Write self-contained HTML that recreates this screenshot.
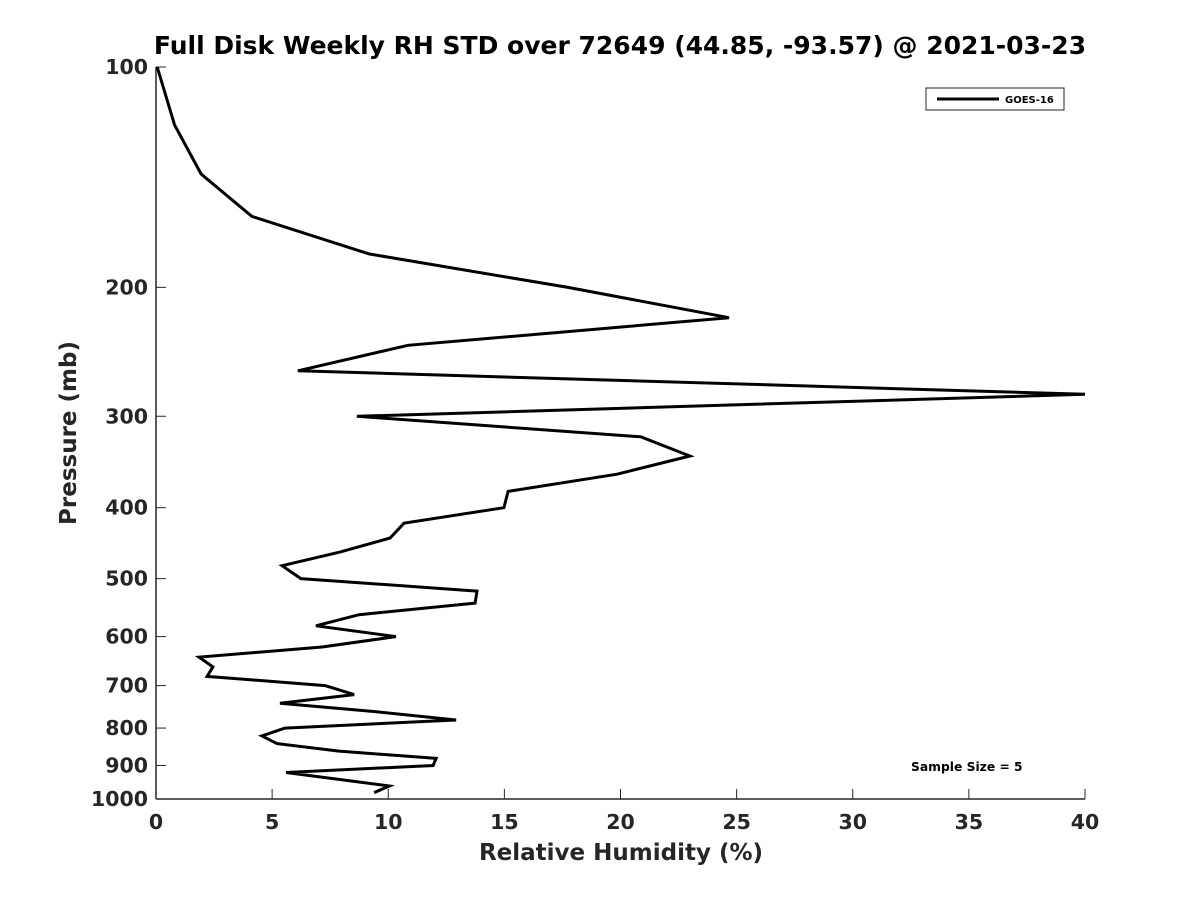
<!DOCTYPE html>
<html><head><meta charset="utf-8"><style>
body{margin:0;background:#fff;}
svg text{font-family:"DejaVu Sans","Liberation Sans",sans-serif;font-weight:bold;fill:#262626;}
</style></head><body>
<svg id="chart" width="1200" height="900" viewBox="0 0 1200 900" xmlns="http://www.w3.org/2000/svg">
<rect width="1200" height="900" fill="#fff"/>
<text x="620" y="54" font-size="25" text-anchor="middle" style="fill:#000">Full Disk Weekly RH STD over 72649 (44.85, -93.57) @ 2021-03-23</text>
<g id="axes"></g>
<path id="line" fill="none" stroke="#000" stroke-width="3" stroke-linejoin="miter"/>
<g>
<rect x="926" y="88" width="138" height="22" fill="#fff" stroke="#262626" stroke-width="1"/>
<line x1="937" y1="99" x2="999" y2="99" stroke="#000" stroke-width="3"/>
<text x="1005" y="103" font-size="10" style="fill:#000">GOES-16</text>
</g>
<text x="911" y="771" font-size="12.3" style="fill:#000">Sample Size = 5</text>
<text x="621" y="860" font-size="23" text-anchor="middle">Relative Humidity (%)</text>
<text transform="translate(76,433) rotate(-90)" font-size="23" text-anchor="middle">Pressure (mb)</text>
</svg>
<script>
const rhValues=[0.05,0.8,1.94,4.13,9.17,17.74,24.67,10.85,6.11,40,8.65,20.88,22.99,19.85,15.16,14.98,10.68,10.08,7.92,5.43,6.24,13.82,13.74,8.74,6.89,10.33,7.15,1.85,2.45,2.2,7.28,8.53,5.34,9.5,12.92,5.55,4.56,5.21,7.88,12.06,11.93,5.6,10.05,9.39];
const pressures=[100,120,140,160,180,200,220,240,260,280,300,320,340,360,380,400,420,440,460,480,500,520,540,560,580,600,620,640,660,680,700,720,740,760,780,800,820,840,860,880,900,920,960,980];
const xTicks=[0,5,10,15,20,25,30,35,40];
const yTicks=[100,200,300,400,500,600,700,800,900,1000];
const X0=156,X1=1085,Y0=67,Y1=799;
const xs=v=>X0+(v-0)/(40-0)*(X1-X0);
const ys=p=>Y0+Math.log10(p/100)*(Y1-Y0);
const ns="http://www.w3.org/2000/svg";
const ax=document.getElementById('axes');
function mk(t,a){const e=document.createElementNS(ns,t);for(const k in a)e.setAttribute(k,a[k]);ax.appendChild(e);return e;}
let e=mk('line',{x1:X0,y1:Y1,x2:X1,y2:Y1,stroke:'#262626','stroke-width':1.5});


e=mk('line',{x1:X0,y1:Y0,x2:X0,y2:Y1,stroke:'#262626','stroke-width':1.5});


xTicks.forEach(v=>{
 const t=mk('line',{x1:xs(v),y1:Y1,x2:xs(v),y2:Y1-10,stroke:'#262626','stroke-width':1});
 
 
 const l=mk('text',{x:xs(v),y:Y1+30,'font-size':20.5,'text-anchor':'middle'});
 l.textContent=v;
 
 
});
yTicks.forEach(v=>{
 const t=mk('line',{x1:X0,y1:ys(v),x2:X0+10,y2:ys(v),stroke:'#262626','stroke-width':1});
 
 
 const l=mk('text',{x:X0-8,y:ys(v)+7,'font-size':20.5,'text-anchor':'end'});
 l.textContent=v;
 
 
});
document.getElementById('line').setAttribute('d',rhValues.map((v,i)=>(i?'L':'M')+xs(v).toFixed(1)+','+ys(pressures[i]).toFixed(1)).join(''));
</script>
</body></html>
